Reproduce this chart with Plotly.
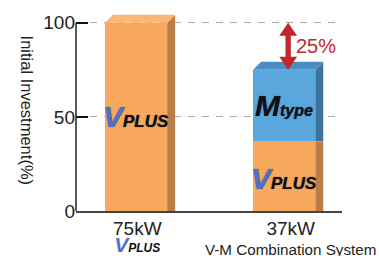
import plotly.graph_objects as go

# ---- data ----
categories = ["75kW", "37kW"]
cat_sub = ["VPLUS", "V-M Combination System"]
vplus_vals = [100, 37]
mtype_vals = [0, 38]
y_ticks = [0, 50, 100]
saving_label = "25%"

# ---- styles ----
ORANGE_F, ORANGE_S, ORANGE_T = "#F7A85C", "#B97E47", "#FAB775"
BLUE_F, BLUE_S, BLUE_T = "#5AA7DD", "#3E73A0", "#4B8DC2"
RED = "#C1272D"
FONT = "Liberation Sans, Arial, sans-serif"

W = 0.42          # bar width (x units)
DX = 0.054        # depth in x units
DY = 4.25         # depth in y units

xs = [0, 1]
fig = go.Figure()

def poly(px, py, color):
    fig.add_trace(go.Scatter(x=px + [px[0]], y=py + [py[0]], fill="toself",
                             fillcolor=color, mode="lines", line=dict(width=0),
                             hoverinfo="skip", showlegend=False))

# front faces
fig.add_trace(go.Bar(x=xs, y=vplus_vals, width=W, marker=dict(color=ORANGE_F, line=dict(width=0)),
                     showlegend=False))
fig.add_trace(go.Bar(x=xs, y=mtype_vals, width=W, marker=dict(color=BLUE_F, line=dict(width=0)),
                     showlegend=False))

# side + top faces computed from data
for i, x in enumerate(xs):
    xl, xr = x - W / 2, x + W / 2
    v, m = vplus_vals[i], mtype_vals[i]
    total = v + m
    if m > 0:
        poly([xr, xr + DX, xr + DX, xr], [0, 0, v, v], ORANGE_S)
        poly([xr, xr + DX, xr + DX, xr], [v, v, total + DY, total], BLUE_S)
        top_c = BLUE_T
    else:
        poly([xr, xr + DX, xr + DX, xr], [0, 0, total + DY, total], ORANGE_S)
        top_c = ORANGE_T
    poly([xl, xr, xr + DX, xl + DX], [total, total, total + DY, total + DY], top_c)

# double arrow between totals
t0 = vplus_vals[0] + mtype_vals[0]
t1 = vplus_vals[1] + mtype_vals[1]
xa = xs[1] + DX / 2
sw, hw, hl = 0.018, 0.06, 6.9
ax_ = [xa, xa + hw, xa + sw, xa + sw, xa + hw, xa, xa - hw, xa - sw, xa - sw, xa - hw]
ay_ = [t0, t0 - hl, t0 - hl, t1 + hl, t1 + hl, t1, t1 + hl, t1 + hl, t0 - hl, t0 - hl]
poly(ax_, ay_, RED)

def vplus_text(big, small):
    return (f"<span style='font-size:{big}px;color:#4F72C6'>V</span>"
            f"<span style='font-size:{small}px;color:#111'>PLUS</span>")

LOGO_FONT = dict(family=FONT, color="#111", weight="bold", style="italic",
                 shadow="0 0 1px #1a2a55")

ann = []
ann.append(dict(x=xs[0], y=vplus_vals[0] / 2, text=vplus_text(30, 17)))
ann.append(dict(x=xs[1], y=vplus_vals[1] / 2 - 1, text=vplus_text(30, 17)))
ann.append(dict(x=xs[1], y=vplus_vals[1] + mtype_vals[1] / 2,
                text="<span style='font-size:30px'>M</span><span style='font-size:16px'>type</span>"))
for a in ann:
    a.update(xref="x", yref="y", showarrow=False, font=LOGO_FONT)

ann.append(dict(x=xa + 0.04, y=(t0 + t1) / 2, text=saving_label, xref="x", yref="y",
                xanchor="left", showarrow=False, font=dict(family=FONT, size=20, color=RED)))
# category labels (two lines each, below the axis)
lbl0 = (f"<span style='font-size:19px'>{categories[0]}</span><br>"
        f"<b><i>{vplus_text(21, 12)}</i></b>")
lbl1 = (f"<span style='font-size:19px'>{categories[1]}</span><br>{cat_sub[1]}")
ann.append(dict(x=xs[0] + 0.008, y=-0.025, text=lbl0, xref="x", yref="paper",
                yanchor="top", showarrow=False, font=dict(family=FONT, size=13, color="#222")))
ann.append(dict(x=xs[1] + 0.04, y=-0.025, text=lbl1, xref="x", yref="paper",
                yanchor="top", showarrow=False, font=dict(family=FONT, size=15.2, color="#222")))
ann.append(dict(x=-0.2275, y=0.49, xref="paper", yref="paper", text="Initial Investment(%)",
                textangle=90, showarrow=False, font=dict(family=FONT, size=16.5, color="#222")))

fig.update_layout(
    width=379, height=256,
    margin=dict(l=76, r=37, t=5, b=45, autoexpand=False),
    paper_bgcolor="white", plot_bgcolor="white",
    barmode="stack", bargap=0,
    showlegend=False,
    annotations=ann,
    shapes=[dict(type="line", xref="paper", yref="y", x0=0, x1=0, y0=0, y1=100,
                 line=dict(color="#222", width=1.5), layer="above")],
    xaxis=dict(range=[-0.4054, 1.3905], showticklabels=False, ticks="", showgrid=False,
               zeroline=False, showline=True, linecolor="#444", linewidth=1.5, fixedrange=True),
    yaxis=dict(range=[0, 109.4], tickvals=y_ticks, ticks="inside", ticklen=12, tickwidth=2,
               tickcolor="#111", showgrid=True, gridcolor="#AAAAAA", griddash="7px,7px",
               gridwidth=1, zeroline=False, showline=False,
               tickfont=dict(family=FONT, size=19, color="#222")),
)

fig.write_html("out.html", config={"displayModeBar": False},
               post_script="document.body.style.margin='0';document.body.style.overflow='hidden';")
